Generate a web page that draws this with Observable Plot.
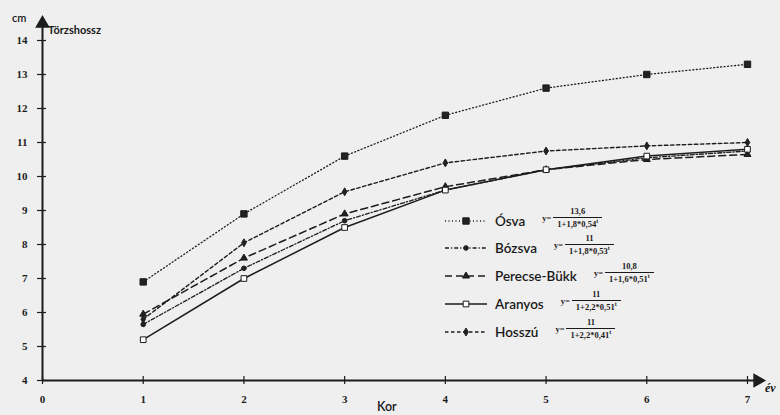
<!DOCTYPE html>
<html><head><meta charset="utf-8">
<script src="https://cdn.jsdelivr.net/npm/d3@7"></script>
<script src="https://cdn.jsdelivr.net/npm/@observablehq/plot@0.6"></script>
<style>
body{margin:0;background:#efefef;}
#wrap{position:relative;width:780px;height:415px;overflow:hidden;}
#wrap svg{position:absolute;left:0;top:0;}
.lbl{position:absolute;color:#1a1a1a;white-space:nowrap;}
.row{position:absolute;left:444px;height:20px;display:flex;align-items:center;}
.name{font-family:Lato,sans-serif;font-size:13.5px;font-weight:600;color:#1a1a1a;margin-left:7px;}
.formula{display:flex;align-items:center;font-family:"Liberation Serif",serif;font-weight:bold;font-size:8.5px;color:#1a1a1a;margin-left:17px;position:relative;top:-3px;}
.frac{display:flex;flex-direction:column;align-items:center;margin-left:2px;}
.num{line-height:9px;padding:0 0 1px 0;}
.den{line-height:9px;border-top:1px solid #1a1a1a;padding:2px 4px 0 4px;}
.den sup{font-size:6px;vertical-align:4px;line-height:0;}
</style></head><body><div id="wrap"></div>
<script>
// ---- data ----
const ages = [1, 2, 3, 4, 5, 6, 7];
const seriesNames = ["Ósva", "Bózsva", "Perecse-Bükk", "Aranyos", "Hosszú"];
const osva    = [6.9, 8.9, 10.6, 11.8, 12.6, 13.0, 13.3];
const bozsva  = [5.65, 7.3, 8.7, 9.6, 10.2, 10.55, 10.75];
const perecse = [5.95, 7.6, 8.9, 9.7, 10.2, 10.5, 10.65];
const aranyos = [5.2, 7.0, 8.5, 9.6, 10.2, 10.6, 10.8];
const hosszu  = [5.8, 8.05, 9.55, 10.4, 10.75, 10.9, 11.0];
const xTicks = [0, 1, 2, 3, 4, 5, 6, 7];
const yTicks = [4, 5, 6, 7, 8, 9, 10, 11, 12, 13, 14];
const numerators = ["13,6", "11", "10,8", "11", "11"];
const denominators = ["1+1,8*0,54", "1+1,8*0,53", "1+1,6*0,51", "1+2,2*0,51", "1+2,2*0,41"];

// ---- styles ----
const values = [osva, bozsva, perecse, aranyos, hosszu];
const dashes = ["1,2.5", "4,2,1.2,2", "7,4", null, "3.5,2.5"];
const widths = [1.3, 1.3, 1.5, 1.5, 1.4];
const symbols = ["square", "circle", "triangle", "square", "diamond"];
const radii = [3.6, 2.3, 2.6, 3.2, 2.4];
const fills = ["#222", "#222", "#222", "#fff", "#222"];
const ink = "#1c1c1c";

const data = seriesNames.flatMap((s, i) => ages.map((a, j) => ({series: s, age: a, len: values[i][j]})));
const yTop = 14.5, xEnd = 7.1;

const chart = Plot.plot({
  width: 780, height: 415,
  marginLeft: 42, marginRight: 33, marginTop: 40, marginBottom: 35,
  x: {domain: [0, 7], label: null},
  y: {domain: [4, 14], label: null},
  style: {background: "transparent", fontFamily: "'Liberation Serif', serif", fontSize: "11px", fontWeight: "bold", color: ink, overflow: "visible"},
  marks: [
    Plot.ruleX([0], {y1: 4, y2: yTop, stroke: ink, strokeWidth: 2}),
    Plot.ruleY([4], {x1: 0, x2: xEnd, stroke: ink, strokeWidth: 2}),
    Plot.dot([{x: 0, y: yTop}], {x: "x", y: "y", symbol: "triangle", r: 4.5, fill: ink, stroke: ink}),
    Plot.dot([{x: xEnd, y: 4}], {x: "x", y: "y", symbol: "triangle", r: 4.5, fill: ink, stroke: ink, rotate: 90}),
    Plot.axisY(yTicks, {anchor: "left", tickSize: 9, dx: 4, tickPadding: 10, stroke: ink, strokeWidth: 1.2}),
    Plot.axisX(xTicks, {anchor: "bottom", tickSize: 8, dy: -4, tickPadding: 11, stroke: ink, strokeWidth: 1.2}),
    ...seriesNames.map((s, i) => Plot.line(data.filter(d => d.series === s), {
      x: "age", y: "len", stroke: ink, strokeWidth: widths[i], strokeDasharray: dashes[i]
    })),
    ...seriesNames.map((s, i) => Plot.dot(data.filter(d => d.series === s), {
      x: "age", y: "len", symbol: symbols[i], r: radii[i], fill: fills[i], stroke: ink, strokeWidth: 1
    }))
  ]
});

const wrap = document.getElementById("wrap");
wrap.appendChild(chart);

function addLabel(text, css) {
  const d = document.createElement("div");
  d.className = "lbl";
  d.textContent = text;
  Object.assign(d.style, css);
  wrap.appendChild(d);
}
addLabel("cm", {left: "12px", top: "11px", fontFamily: "Lato, sans-serif", fontSize: "11px", fontWeight: "600"});
addLabel("Törzshossz", {left: "48px", top: "23px", fontFamily: "Lato, sans-serif", fontSize: "11px", fontWeight: "bold"});
addLabel("Kor", {left: "377px", top: "399px", fontFamily: "Lato, sans-serif", fontSize: "12.5px", fontWeight: "600"});
addLabel("év", {left: "765px", top: "381px", fontFamily: "'Liberation Serif', serif", fontSize: "12px", fontWeight: "bold", fontStyle: "italic"});

// ---- legend ----
const rowCenters = [220.5, 247.5, 275.5, 303.5, 331.5];
const svgNS = "http://www.w3.org/2000/svg";
seriesNames.forEach((s, i) => {
  const row = document.createElement("div");
  row.className = "row";
  row.style.top = (rowCenters[i] - 10) + "px";
  const sw = document.createElementNS(svgNS, "svg");
  sw.setAttribute("width", 44); sw.setAttribute("height", 12);
  sw.style.position = "static";
  const ln = document.createElementNS(svgNS, "line");
  ln.setAttribute("x1", 1); ln.setAttribute("x2", 43); ln.setAttribute("y1", 6); ln.setAttribute("y2", 6);
  ln.setAttribute("stroke", ink); ln.setAttribute("stroke-width", widths[i]);
  if (dashes[i]) ln.setAttribute("stroke-dasharray", dashes[i]);
  sw.appendChild(ln);
  const sym = d3.symbol(
    {square: d3.symbolSquare, circle: d3.symbolCircle, triangle: d3.symbolTriangle, diamond: d3.symbolDiamond}[symbols[i]],
    Math.PI * radii[i] * radii[i]);
  const p = document.createElementNS(svgNS, "path");
  p.setAttribute("d", sym());
  p.setAttribute("transform", "translate(22,6)");
  p.setAttribute("fill", fills[i]); p.setAttribute("stroke", ink);
  sw.appendChild(p);
  row.appendChild(sw);
  const nm = document.createElement("span");
  nm.className = "name"; nm.textContent = s;
  row.appendChild(nm);
  const f = document.createElement("div");
  f.className = "formula";
  f.innerHTML = `<span>y=</span><div class="frac"><span class="num">${numerators[i]}</span><span class="den">${denominators[i]}<sup>t</sup></span></div>`;
  row.appendChild(f);
  wrap.appendChild(row);
});
</script>
</body></html>
